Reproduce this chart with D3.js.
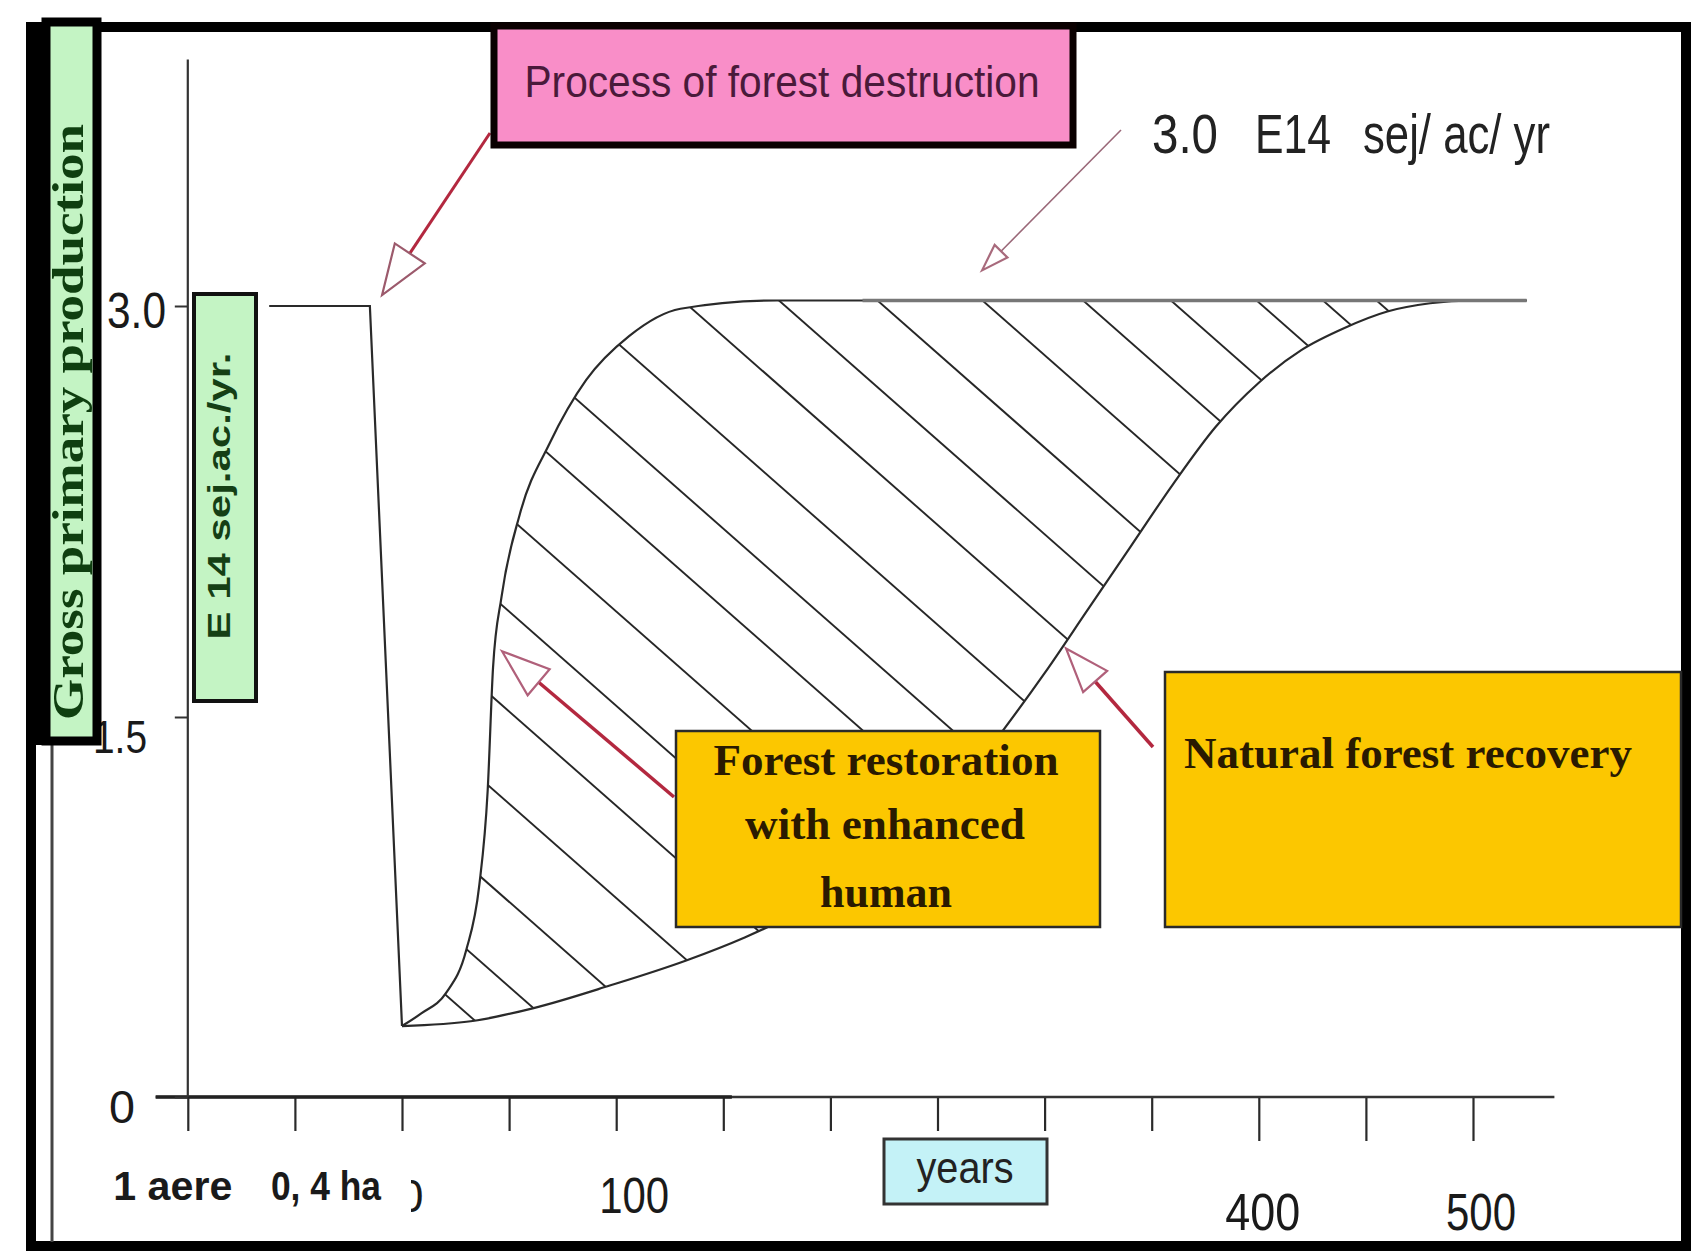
<!DOCTYPE html>
<html><head><meta charset="utf-8">
<script src="https://cdn.jsdelivr.net/npm/d3@7"></script>
<style>body{margin:0;background:#fff}svg{display:block}</style>
</head><body>
<script>
// ---------------- data (years, gross primary production E14 sej/ac/yr) ----------------
const destructionCurve = [[-62, 3.0], [-15, 3.0], [0, 0.28]];
const restorationCurve = [[0, 0.28], [9, 0.33], [20.5, 0.41], [30, 0.58], [36, 0.83], [40, 1.21], [42.5, 1.68],
  [46.5, 1.94], [55, 2.24], [69, 2.50], [86, 2.73], [106, 2.89], [130, 2.99], [175, 3.02], [525, 3.02]];
const naturalCurve = [[0, 0.28], [33, 0.30], [61, 0.35], [97, 0.44], [133, 0.54], [160, 0.63], [185, 0.73],
  [210, 0.85], [235, 1.01], [260, 1.22], [280, 1.44], [300, 1.66], [320, 1.89], [340, 2.12], [360, 2.35],
  [380, 2.56], [400, 2.72], [420, 2.84], [440, 2.92], [460, 2.98], [480, 3.01], [500, 3.02], [525, 3.02]];
// year at which each hatch line crosses the plateau level
const hatchYears = [-348, -314, -269, -217, -168, -115, -65, -13, 29, 78, 131, 176, 222, 271, 318, 359, 399, 430, 455];
const xTickValues = d3.range(-100, 501, 50);
const xLabelYears = [-100, -50, 0, 100, 400, 500];
const xTickLabels = ["1 aere", "0, 4 ha", "0", "100", "400", "500"];
const yTickValues = [0, 1.5, 3.0];
const yTickLabels = ["0", "1.5", "3.0"];
const plateauValue = 3.02;

// ---------------- layout ----------------
const W = 1692, H = 1253;
const svg = d3.select("body").append("svg").attr("width", W).attr("height", H);
svg.append("rect").attr("width", W).attr("height", H).attr("fill", "#fff");

const x = d3.scaleLinear().domain([0, 500]).range([402, 1473]);
const y = d3.scaleLinear().domain([0, 1.5, 3]).range([1097, 717, 306]);

const SANS = "'Liberation Sans', Arial, sans-serif";
const SERIF = "'Liberation Serif', 'Times New Roman', serif";

function txt(g, s, o) {
  const t = g.append("text").text(s)
    .attr("x", o.x || 0).attr("y", o.y || 0)
    .attr("font-family", o.family || SANS)
    .attr("font-size", o.size)
    .attr("font-weight", o.weight || "normal")
    .attr("fill", o.fill || "#111")
    .attr("text-anchor", o.anchor || "start");
  if (o.len) t.attr("textLength", o.len).attr("lengthAdjust", "spacingAndGlyphs");
  if (o.transform) t.attr("transform", o.transform);
  return t;
}

// outer frame
svg.append("rect").attr("x", 31).attr("y", 27).attr("width", 1655).attr("height", 1219)
  .attr("fill", "none").attr("stroke", "#000").attr("stroke-width", 10);
svg.append("line").attr("x1", 52).attr("x2", 52).attr("y1", 740).attr("y2", 1242)
  .attr("stroke", "#444").attr("stroke-width", 3);

// ---------------- clip regions ----------------
const defs = svg.append("defs");
const areaBelowRest = d3.area().curve(d3.curveMonotoneX)
  .x(d => x(d[0])).y0(H).y1(d => y(d[1]));
const areaAboveNat = d3.area().curve(d3.curveMonotoneX)
  .x(d => x(d[0])).y0(d => y(d[1])).y1(0);
defs.append("clipPath").attr("id", "clipRest").append("path").attr("d", areaBelowRest(restorationCurve));
defs.append("clipPath").attr("id", "clipNat").append("path").attr("d", areaAboveNat(naturalCurve));
defs.append("clipPath").attr("id", "clipZero").append("rect")
  .attr("x", x(0) + 9).attr("y", 1140).attr("width", 40).attr("height", 100);

// hatch
const slope = 0.88;
const hatchG = svg.append("g").attr("clip-path", "url(#clipRest)")
  .append("g").attr("clip-path", "url(#clipNat)");
hatchG.selectAll("line").data(hatchYears).join("line")
  .attr("x1", d => x(d) - 900).attr("y1", y(plateauValue) - 900 * slope)
  .attr("x2", d => x(d) + 900).attr("y2", y(plateauValue) + 900 * slope)
  .attr("stroke", "#262626").attr("stroke-width", 1.9);

// ---------------- curves ----------------
const lineMono = d3.line().curve(d3.curveMonotoneX).x(d => x(d[0])).y(d => y(d[1]));
const lineLin = d3.line().x(d => x(d[0])).y(d => y(d[1]));
svg.append("path").attr("d", lineLin(destructionCurve)).attr("fill", "none")
  .attr("stroke", "#2a2a2a").attr("stroke-width", 2.2);
svg.append("path").attr("d", lineMono(naturalCurve)).attr("fill", "none")
  .attr("stroke", "#2a2a2a").attr("stroke-width", 2.2);
svg.append("path").attr("d", lineMono(restorationCurve)).attr("fill", "none")
  .attr("stroke", "#2a2a2a").attr("stroke-width", 2.2);
svg.append("path").attr("d", lineLin([[215, plateauValue], [525, plateauValue]])).attr("fill", "none")
  .attr("stroke", "#777").attr("stroke-width", 3.5);

// ---------------- axes ----------------
const xAxisG = svg.append("g").attr("transform", `translate(0,${y(0)})`)
  .call(d3.axisBottom(x).tickValues(xTickValues).tickFormat("").tickSizeOuter(0));
xAxisG.select(".domain").remove();
xAxisG.selectAll(".tick line").attr("y2", d => d >= 400 ? 44 : 34)
  .attr("stroke", "#2a2a2a").attr("stroke-width", 2.2);
svg.append("path").attr("d", lineLin([[-115, 0], [538, 0]])).attr("stroke", "#333").attr("stroke-width", 2.5);
svg.append("path").attr("d", lineLin([[-115, 0], [154, 0]])).attr("stroke", "#222").attr("stroke-width", 3.5);

const yAxisG = svg.append("g").attr("transform", `translate(${x(-100)},0)`)
  .call(d3.axisLeft(y).tickValues(yTickValues).tickFormat("").tickSize(13).tickSizeOuter(0));
yAxisG.select(".domain").remove();
yAxisG.selectAll(".tick line").attr("stroke", "#333").attr("stroke-width", 2);
svg.append("path").attr("d", lineLin([[-100, 0], [-100, 3.9]])).attr("stroke", "#333").attr("stroke-width", 2.2);

// y tick labels
const yLabelStyle = [{ xe: 135, dy: 26, size: 46, len: 26 }, { xe: 147, dy: 36, size: 46, len: 54 }, { xe: 166, dy: 22, size: 50, len: 59 }];
yTickValues.forEach((v, i) => {
  const s = yLabelStyle[i];
  txt(svg, yTickLabels[i], { x: s.xe, y: y(v) + s.dy, size: s.size, len: s.len, anchor: "end", fill: "#1a1a1a" });
});

// x tick labels
const xLabelStyle = [
  { dx: -15, base: 1200, size: 41, weight: "bold", len: 119 },
  { dx: 31, base: 1200, size: 41, weight: "bold", len: 110 },
  { dx: 9, base: 1212, size: 46, weight: "normal", len: 25, clip: true },
  { dx: 18, base: 1213, size: 50, weight: "normal", len: 70 },
  { dx: 4, base: 1230, size: 52, weight: "normal", len: 75 },
  { dx: 8, base: 1230, size: 52, weight: "normal", len: 70 }];
xLabelYears.forEach((v, i) => {
  const s = xLabelStyle[i];
  const t = txt(svg, xTickLabels[i], { x: x(v) + s.dx, y: s.base, size: s.size, weight: s.weight, len: s.len, anchor: "middle", fill: "#1a1a1a" });
  if (s.clip) t.attr("clip-path", "url(#clipZero)");
});

// years box
svg.append("rect").attr("x", 884).attr("y", 1139).attr("width", 163).attr("height", 65)
  .attr("fill", "#c4f2f7").attr("stroke", "#333").attr("stroke-width", 3);
txt(svg, "years", { x: 965, y: 1183, size: 44, len: 97, anchor: "middle", fill: "#222" });

// ---------------- annotation boxes ----------------
svg.append("rect").attr("x", 676).attr("y", 731).attr("width", 424).attr("height", 196)
  .attr("fill", "#fcc700").attr("stroke", "#2a2a2a").attr("stroke-width", 2.5);
txt(svg, "Forest restoration", { x: 886, y: 775, size: 44, len: 345, family: SERIF, weight: "bold", anchor: "middle", fill: "#2a1a00" });
txt(svg, "with enhanced", { x: 885, y: 839, size: 44, len: 280, family: SERIF, weight: "bold", anchor: "middle", fill: "#2a1a00" });
txt(svg, "human", { x: 886, y: 907, size: 44, len: 132, family: SERIF, weight: "bold", anchor: "middle", fill: "#2a1a00" });

svg.append("rect").attr("x", 1165).attr("y", 672).attr("width", 516).attr("height", 255)
  .attr("fill", "#fcc700").attr("stroke", "#2a2a2a").attr("stroke-width", 2.5);
txt(svg, "Natural forest recovery", { x: 1408, y: 768, size: 44, len: 448, family: SERIF, weight: "bold", anchor: "middle", fill: "#2a1a00" });

// arrows
function arrow(tail, tip, headLen, halfW, shaftW, shaftColor, headColor) {
  const dx = tip[0] - tail[0], dy = tip[1] - tail[1], L = Math.hypot(dx, dy);
  const ux = dx / L, uy = dy / L, px = -uy, py = ux;
  const bx = tip[0] - ux * headLen, by = tip[1] - uy * headLen;
  svg.append("line").attr("x1", tail[0]).attr("y1", tail[1]).attr("x2", bx).attr("y2", by)
    .attr("stroke", shaftColor).attr("stroke-width", shaftW);
  svg.append("polygon")
    .attr("points", [[tip[0], tip[1]], [bx + px * halfW, by + py * halfW], [bx - px * halfW, by - py * halfW]].map(p => p.join(",")).join(" "))
    .attr("fill", "#fff").attr("stroke", headColor).attr("stroke-width", 2.2).attr("stroke-linejoin", "miter");
}
arrow([490, 133], [x(-9.3), y(3.04)], 50, 18, 3, "#b3283f", "#9c5a6c");
arrow([1121, 130], [x(270.8), y(3.13)], 27, 9, 1.6, "#9a6878", "#a86a7c");
arrow([674, 797], [x(46.7), y(1.74)], 48, 17, 3.5, "#b3283f", "#b0607a");
arrow([1153, 747], [x(310), y(1.75)], 44, 16, 3.5, "#b3283f", "#b0607a");

// pink box
svg.append("rect").attr("x", 494).attr("y", 26).attr("width", 579).attr("height", 119)
  .attr("fill", "#f98ec8").attr("stroke", "#0a0000").attr("stroke-width", 7);
txt(svg, "Process of forest destruction", { x: 782, y: 97, size: 44, len: 515, anchor: "middle", fill: "#4a1a3a" });

// unit annotation
txt(svg, "3.0", { x: 1152, y: 153, size: 55, len: 66, fill: "#222" });
txt(svg, "E14", { x: 1255, y: 153, size: 55, len: 76, fill: "#222" });
txt(svg, "sej/ ac/ yr", { x: 1363, y: 153, size: 55, len: 187, fill: "#222" });

// green y-axis boxes
svg.append("rect").attr("x", 27).attr("y", 22).attr("width", 20).attr("height", 723).attr("fill", "#000");
svg.append("rect").attr("x", 46).attr("y", 22).attr("width", 51).attr("height", 719)
  .attr("fill", "#c4f4c4").attr("stroke", "#000").attr("stroke-width", 9);
txt(svg, "Gross primary production", { size: 45, len: 596, family: SERIF, weight: "bold", anchor: "middle",
  fill: "#0f3f10", transform: "translate(83,422) rotate(-90)" });
svg.append("rect").attr("x", 194).attr("y", 294).attr("width", 62).attr("height", 407)
  .attr("fill", "#c4f4c4").attr("stroke", "#111").attr("stroke-width", 4);
txt(svg, "E 14 sej.ac./yr.", { size: 31, len: 287, weight: "bold", anchor: "middle",
  fill: "#153f15", transform: "translate(230,496) rotate(-90)" });
</script>
</body></html>
